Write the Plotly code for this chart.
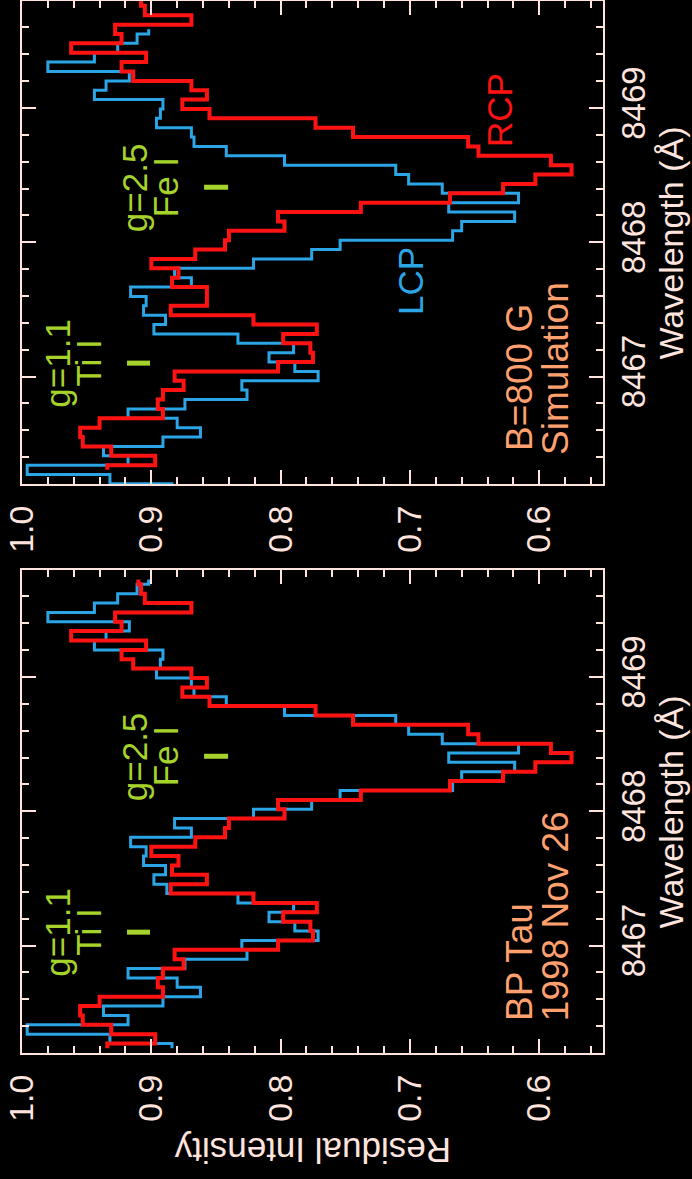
import plotly.graph_objects as go

# ---------------------------------------------------------------------------
# Data
# ---------------------------------------------------------------------------
# Pixel-centre wavelengths (Angstrom) of the observed BP Tau spectrum
obs_wave = [
    8469.726, 8469.656, 8469.586, 8469.516, 8469.447, 8469.377, 8469.307, 8469.237, 8469.167, 8469.098,
    8469.028, 8468.958, 8468.888, 8468.818, 8468.749, 8468.679, 8468.609, 8468.539, 8468.469, 8468.400,
    8468.330, 8468.260, 8468.190, 8468.120, 8468.050, 8467.981, 8467.911, 8467.841, 8467.771, 8467.701,
    8467.632, 8467.562, 8467.492, 8467.422, 8467.352, 8467.283, 8467.213, 8467.143, 8467.073, 8467.003,
    8466.934, 8466.864, 8466.794, 8466.724, 8466.654, 8466.585, 8466.515, 8466.445, 8466.375, 8466.305,
    8466.236,
]
# Observed residual intensity, left circular polarisation
obs_lcp = [
    0.902, 0.911, 0.926, 0.944, 0.980, 0.917, 0.935, 0.944, 0.891, 0.893,
    0.896, 0.869, 0.867, 0.842, 0.797, 0.711, 0.701, 0.675, 0.616, 0.670,
    0.619, 0.660, 0.667, 0.754, 0.776, 0.821, 0.882, 0.869, 0.916, 0.904,
    0.906, 0.889, 0.898, 0.888, 0.833, 0.790, 0.809, 0.789, 0.771, 0.830,
    0.826, 0.874, 0.918, 0.880, 0.862, 0.891, 0.937, 0.918, 0.996, 0.932,
    0.884,
]
# Observed residual intensity, right circular polarisation
obs_rcp = [
    0.910, 0.908, 0.905, 0.869, 0.928, 0.923, 0.962, 0.904, 0.923, 0.914,
    0.869, 0.857, 0.876, 0.855, 0.773, 0.744, 0.655, 0.647, 0.591, 0.575,
    0.603, 0.628, 0.669, 0.738, 0.802, 0.797, 0.840, 0.843, 0.866, 0.900,
    0.879, 0.884, 0.857, 0.885, 0.821, 0.772, 0.798, 0.777, 0.775, 0.802,
    0.882, 0.875, 0.891, 0.895, 0.891, 0.940, 0.955, 0.953, 0.931, 0.897,
    0.934,
]

# Simulated B = 800 G profiles
sim_lcp_wave = [
    8469.586, 8469.516, 8469.447, 8469.377, 8469.307, 8469.237, 8469.167, 8469.098, 8469.028, 8468.958,
    8468.888, 8468.818, 8468.749, 8468.679, 8468.609, 8468.539, 8468.469, 8468.400, 8468.330, 8468.260,
    8468.190, 8468.120, 8468.050, 8467.981, 8467.911, 8467.841, 8467.771, 8467.701, 8467.632, 8467.562,
    8467.492, 8467.422, 8467.352, 8467.283, 8467.213, 8467.143, 8467.073, 8467.003, 8466.934, 8466.864,
    8466.794, 8466.724, 8466.654, 8466.585, 8466.515, 8466.445, 8466.375, 8466.305, 8466.236, 8466.166,
]
sim_lcp = [
    0.902, 0.911, 0.926, 0.944, 0.980, 0.917, 0.935, 0.944, 0.891, 0.893,
    0.896, 0.869, 0.867, 0.842, 0.797, 0.711, 0.701, 0.675, 0.616, 0.670,
    0.619, 0.660, 0.667, 0.754, 0.776, 0.821, 0.882, 0.869, 0.916, 0.904,
    0.906, 0.889, 0.898, 0.833, 0.790, 0.809, 0.789, 0.771, 0.830, 0.826,
    0.874, 0.918, 0.880, 0.862, 0.891, 0.937, 0.918, 0.996, 0.932, 0.884,
]
sim_rcp_wave = [
    8469.866, 8469.796, 8469.726, 8469.656, 8469.586, 8469.516, 8469.447, 8469.377, 8469.307, 8469.237,
    8469.167, 8469.098, 8469.028, 8468.958, 8468.888, 8468.818, 8468.749, 8468.679, 8468.609, 8468.539,
    8468.469, 8468.400, 8468.330, 8468.260, 8468.190, 8468.120, 8468.050, 8467.981, 8467.911, 8467.841,
    8467.771, 8467.701, 8467.632, 8467.562, 8467.492, 8467.422, 8467.352, 8467.283, 8467.213, 8467.143,
    8467.073, 8467.003, 8466.934, 8466.864, 8466.794, 8466.724, 8466.654, 8466.585, 8466.515, 8466.445,
    8466.375, 8466.305,
]
sim_rcp = [
    0.910, 0.908, 0.905, 0.869, 0.928, 0.923, 0.962, 0.904, 0.923, 0.914,
    0.869, 0.857, 0.876, 0.855, 0.773, 0.744, 0.655, 0.647, 0.591, 0.575,
    0.603, 0.628, 0.669, 0.738, 0.802, 0.797, 0.840, 0.843, 0.866, 0.900,
    0.879, 0.884, 0.857, 0.857, 0.885, 0.821, 0.772, 0.798, 0.777, 0.775,
    0.802, 0.882, 0.875, 0.891, 0.895, 0.891, 0.940, 0.955, 0.953, 0.931,
    0.897, 0.934,
]

# Line identifications
line_wave = [8467.10, 8468.41]
line_species = ["Ti I", "Fe I"]
line_lande = ["g=1.1", "g=2.5"]

intensity_ticks = [1.0, 0.9, 0.8, 0.7, 0.6]
wave_ticks = [8467, 8468, 8469]

# ---------------------------------------------------------------------------
# Style
# ---------------------------------------------------------------------------
FG = "#ffe4de"
BLUE = "#2ba5e6"
RED = "#ff1212"
LIME = "#a6d22c"
ORANGE = "#ffa06e"
FONT = "Liberation Sans, Arial, Helvetica, sans-serif"

X_RANGE = [1.0, 0.5507]
Y_RANGE = [8466.2, 8469.797]

fig = go.Figure()

panels = [
    ("x", "y", sim_lcp_wave, sim_lcp, sim_rcp_wave, sim_rcp),
    ("x2", "y2", obs_wave, obs_lcp, obs_wave, obs_rcp),
]
for xa, ya, wl, lcp, wr, rcp in panels:
    fig.add_trace(go.Scatter(
        x=lcp, y=wl, mode="lines", xaxis=xa, yaxis=ya,
        line=dict(color=BLUE, width=3, shape="vhv"),
        hoverinfo="skip", showlegend=False,
    ))
    fig.add_trace(go.Scatter(
        x=rcp, y=wr, mode="lines", xaxis=xa, yaxis=ya,
        line=dict(color=RED, width=4, shape="vhv"),
        hoverinfo="skip", showlegend=False,
    ))


def intensity_axis(anchor):
    return dict(
        domain=[0, 1], anchor=anchor, range=X_RANGE,
        showline=True, linecolor=FG, linewidth=2, mirror="ticks",
        ticks="inside", ticklen=14, tickwidth=2, tickcolor=FG,
        tickmode="array", tickvals=intensity_ticks,
        ticktext=[f"{v:.1f}" for v in intensity_ticks],
        tickangle=-90, ticklabelstandoff=6,
        tickfont=dict(family=FONT, size=34, color=FG),
        minor=dict(ticks="inside", ticklen=7, tickwidth=2, tickcolor=FG,
                   tickmode="linear", tick0=0.0, dtick=0.02, showgrid=False),
        showgrid=False, zeroline=False,
    )


def wave_axis(anchor, domain):
    return dict(
        domain=domain, anchor=anchor, range=Y_RANGE, side="right",
        showline=True, linecolor=FG, linewidth=2, mirror="ticks",
        ticks="inside", ticklen=14, tickwidth=2, tickcolor=FG,
        tickmode="array", tickvals=wave_ticks,
        ticktext=[str(v) for v in wave_ticks],
        tickangle=-90, ticklabelstandoff=0,
        tickfont=dict(family=FONT, size=33, color=FG),
        minor=dict(ticks="inside", ticklen=7, tickwidth=2, tickcolor=FG,
                   tickmode="linear", tick0=8467.0, dtick=0.2, showgrid=False),
        showgrid=False, zeroline=False,
    )


TOP_DOMAIN = [0.5409, 1.0]
BOTTOM_DOMAIN = [0.0, 0.4591]

fig.update_layout(
    width=692, height=1179,
    margin=dict(l=22, r=89, t=1, b=126, autoexpand=False),
    paper_bgcolor="black", plot_bgcolor="black",
    font=dict(family=FONT, color=FG),
    xaxis=intensity_axis("y"),
    yaxis=wave_axis("x", TOP_DOMAIN),
    xaxis2=intensity_axis("y2"),
    yaxis2=wave_axis("x2", BOTTOM_DOMAIN),
    showlegend=False,
)

annotations = []
shapes = []

# Axis titles
for ycen in (0.7704, 0.2296):
    annotations.append(dict(
        text="Wavelength (Å)", xref="paper", yref="paper", x=1.1170, y=ycen,
        xanchor="center", yanchor="middle", textangle=-90, showarrow=False,
        font=dict(family=FONT, size=34, color=FG), borderpad=0,
    ))
annotations.append(dict(
    text="Residual Intensity", xref="paper", yref="paper", x=0.5, y=-0.0932,
    xanchor="center", yanchor="middle", textangle=180, showarrow=False,
    font=dict(family=FONT, size=35, color=FG),
))

# Line identifications with position markers, in both panels
label_cols = {"Ti I": (0.9725, 0.9486, 0.9188, 0.9010),
              "Fe I": (0.9134, 0.8894, 0.8592, 0.8406)}
for xr, yr in (("x", "y"), ("x2", "y2")):
    for wl, sp, g in zip(line_wave, line_species, line_lande):
        xg, xs, m0, m1 = label_cols[sp]
        annotations.append(dict(
            text=g, xref=xr, yref=yr, x=xg, y=wl, xanchor="center", yanchor="middle",
            textangle=-90, showarrow=False, font=dict(family=FONT, size=35, color=LIME),
        ))
        annotations.append(dict(
            text=sp, xref=xr, yref=yr, x=xs, y=wl, xanchor="center", yanchor="middle",
            textangle=-90, showarrow=False, font=dict(family=FONT, size=35, color=LIME),
        ))
        shapes.append(dict(
            type="line", xref=xr, yref=yr, x0=m0, x1=m1, y0=wl, y1=wl,
            line=dict(color=LIME, width=5),
        ))

# Panel captions
captions = [
    ("x", "y", "B=800 G", 0.6159, 8466.433),
    ("x", "y", "Simulation", 0.5880, 8466.403),
    ("x2", "y2", "BP Tau", 0.6151, 8466.421),
    ("x2", "y2", "1998 Nov 26", 0.5872, 8466.421),
]
for xr, yr, txt, xv, yv in captions:
    annotations.append(dict(
        text=txt, xref=xr, yref=yr, x=xv, y=yv, xanchor="center", yanchor="bottom",
        textangle=-90, showarrow=False, font=dict(family=FONT, size=37, color=ORANGE),
    ))

# Polarisation labels in the simulation panel
annotations.append(dict(
    text="LCP", xref="x", yref="y", x=0.6998, y=8467.714, xanchor="center", yanchor="middle",
    textangle=-90, showarrow=False, font=dict(family=FONT, size=35, color=BLUE),
))
annotations.append(dict(
    text="RCP", xref="x", yref="y", x=0.6302, y=8468.987, xanchor="center", yanchor="middle",
    textangle=-90, showarrow=False, font=dict(family=FONT, size=35, color=RED),
))

fig.update_layout(annotations=annotations, shapes=shapes)

fig.write_html("out.html")
